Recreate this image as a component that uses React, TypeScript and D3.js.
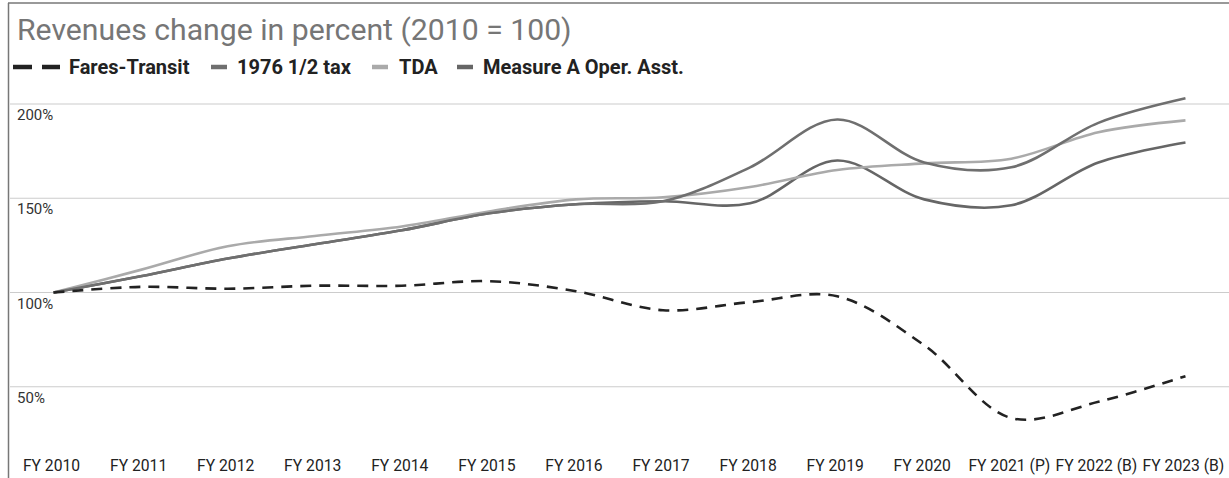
import React from "react";
import * as d3 from "d3";

const categories = ["FY 2010","FY 2011","FY 2012","FY 2013","FY 2014","FY 2015","FY 2016","FY 2017","FY 2018","FY 2019","FY 2020","FY 2021 (P)","FY 2022 (B)","FY 2023 (B)"];
const faresTransit = [100,103,102,103.6,103.6,106,100.7,90.6,94.9,98,72,33.4,42,55.6];
const halfCentTax = [100,108.6,118,125.6,133,142,146.8,148.4,166.4,191.8,169,166.4,190,203];
const tda = [100,112,124.5,130,135,143,149.4,150.5,156,165,168.5,171,185,191.3];
const measureA = [100,108.6,118,125.6,133,142,146.8,148.4,147.3,170,149.4,146.3,169,179.6];
const yTicks = [50,100,150,200];
const title = "Revenues change in percent (2010 = 100)";

const series = [
  { name: "Fares-Transit", values: faresTransit, color: "#222222", dash: "11,8", width: 2.6 },
  { name: "1976 1/2 tax", values: halfCentTax, color: "#6f6f6f", dash: null, width: 2.6 },
  { name: "TDA", values: tda, color: "#aaaaaa", dash: null, width: 2.6 },
  { name: "Measure A Oper. Asst.", values: measureA, color: "#666666", dash: null, width: 2.6 },
];

export default function App() {
  const W = 1229, H = 478;
  const left = 10, right = 1229;
  const x = d3.scaleBand<string>().domain(categories).range([left, right]);
  const cx = (c: string) => (x(c) as number) + x.bandwidth() / 2;
  const y = d3.scaleLinear().domain([0, 200]).range([481, 104]);
  const line = (vals: number[]) =>
    d3.line<number>()
      .x((_, i) => cx(categories[i]))
      .y((v) => y(v))
      .curve(d3.curveCatmullRom.alpha(0.5))(vals) as string;

  const legendItems = [
    { s: series[0], mx: 13, tx: 69 },
    { s: series[1], mx: 211, tx: 237 },
    { s: series[2], mx: 372, tx: 399 },
    { s: series[3], mx: 457, tx: 483 },
  ];

  return (
    <svg width={W} height={H} style={{ position: "absolute", left: 0, top: 0, fontFamily: "Roboto, sans-serif" }}>
      <rect x={0} y={0} width={W} height={H} fill="#ffffff" />
      <line x1={8.5} y1={3} x2={8.5} y2={H} stroke="#777" strokeWidth={1.5} />
      <line x1={8} y1={3} x2={W} y2={3} stroke="#777" strokeWidth={1.5} />
      <text x={17} y={40} fontSize={30.2} fill="#767676">{title}</text>
      {legendItems.map(({ s, mx, tx }) => (
        <g key={s.name}>
          {s.dash ? (
            <>
              <line x1={mx} x2={mx + 19} y1={67} y2={67} stroke={s.color} strokeWidth={4.5} />
              <line x1={mx + 29} x2={mx + 47} y1={67} y2={67} stroke={s.color} strokeWidth={4.5} />
            </>
          ) : (
            <line x1={mx} x2={mx + 16} y1={67} y2={67} stroke={s.color} strokeWidth={4.5} />
          )}
          <text x={tx} y={74} fontSize={20} fontWeight="bold" fill="#222">{s.name}</text>
        </g>
      ))}
      {yTicks.map((t) => (
        <g key={t}>
          <line x1={left} x2={right} y1={y(t)} y2={y(t)} stroke="#cccccc" strokeWidth={1.2} />
          <text x={17} y={y(t) + 16} fontSize={15} fill="#333">{t}%</text>
        </g>
      ))}
      {categories.map((c) => (
        <text key={c} x={cx(c) - 2} y={471} fontSize={15.7} fill="#222" textAnchor="middle">{c}</text>
      ))}
      {series.slice().reverse().map((s) => (
        <path key={s.name} d={line(s.values)} fill="none" stroke={s.color} strokeWidth={s.width}
          strokeDasharray={s.dash ?? undefined} strokeLinecap="butt" />
      ))}
    </svg>
  );
}
